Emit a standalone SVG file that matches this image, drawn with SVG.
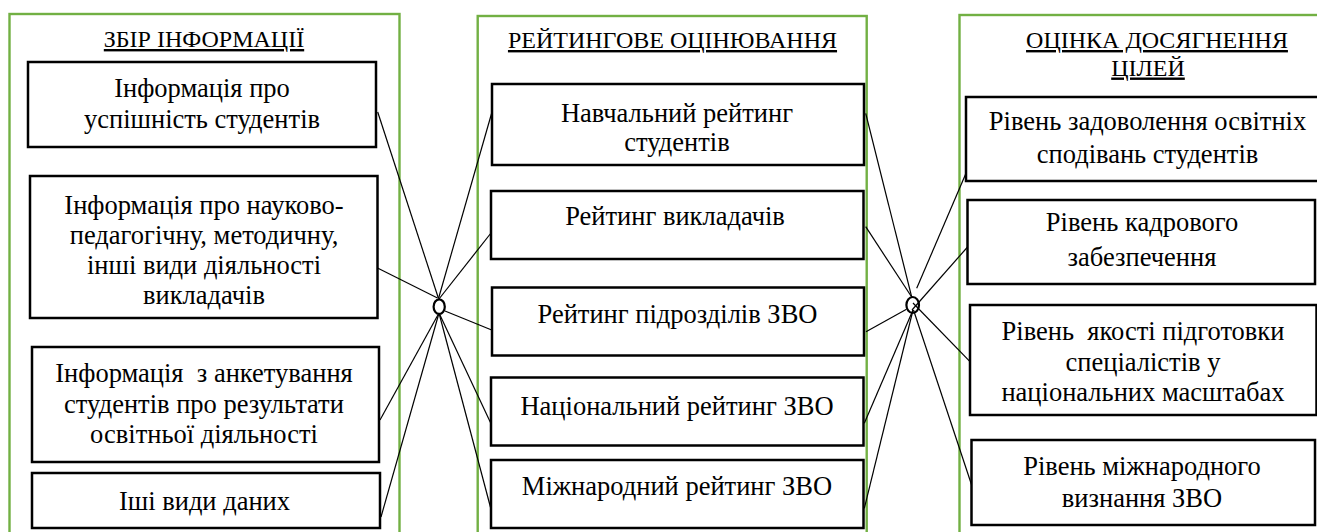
<svg xmlns="http://www.w3.org/2000/svg" width="1317" height="532" viewBox="0 0 1317 532">
<style>
  .frame { fill: none; stroke: #72B043; stroke-width: 2.4; }
  .box { fill: #fff; stroke: #000; stroke-width: 2.5; }
  text { font-family: 'Liberation Serif', 'Times New Roman', serif; fill: #000; text-anchor: middle; }
  .t { font-size: 26.5px; }
  .h { font-size: 24px; text-decoration: underline; }
  .c { fill: none; stroke: #000; stroke-width: 1.2; }
  .j { fill: none; stroke: #000; stroke-width: 2.2; }
</style>
<rect width="1317" height="532" fill="#fff"/>

<g id="frames">
  <rect class="frame" x="9.5" y="14" width="390" height="540"/>
  <rect class="frame" x="477.7" y="16" width="389" height="540"/>
  <rect class="frame" x="959.5" y="15" width="400" height="540"/>
</g>

<g id="titles">
  <text class="h" x="204" y="47">ЗБІР ІНФОРМАЦІЇ</text>
  <text class="h" x="672.5" y="48">РЕЙТИНГОВЕ ОЦІНЮВАННЯ</text>
  <text class="h" x="1157" y="48">ОЦІНКА ДОСЯГНЕННЯ</text>
  <text class="h" x="1148" y="75.5">ЦІЛЕЙ</text>
</g>

<g id="connectors">
  <line class="c" x1="377.7" y1="112" x2="438.5" y2="298.5"/>
  <line class="c" x1="377.5" y1="268" x2="437.5" y2="298"/>
  <line class="c" x1="491.7" y1="113" x2="438.5" y2="298.5"/>
  <line class="c" x1="491" y1="233" x2="439" y2="299"/>
  <line class="c" x1="445" y1="311" x2="491.7" y2="330"/>
  <line class="c" x1="439" y1="313" x2="380" y2="420"/>
  <line class="c" x1="439" y1="313" x2="381" y2="517"/>
  <line class="c" x1="439" y1="313" x2="490.7" y2="423"/>
  <line class="c" x1="439" y1="313" x2="490.7" y2="508"/>
  <line class="c" x1="865.7" y1="113.3" x2="911.7" y2="297"/>
  <line class="c" x1="865.7" y1="226.7" x2="911.7" y2="297"/>
  <line class="c" x1="866" y1="331.7" x2="906.5" y2="309.3"/>
  <line class="c" x1="864.3" y1="423.3" x2="913" y2="310"/>
  <line class="c" x1="864.3" y1="508.3" x2="913" y2="310"/>
  <line class="c" x1="966" y1="173.3" x2="916.7" y2="288.3"/>
  <line class="c" x1="969.3" y1="245" x2="912" y2="310"/>
  <line class="c" x1="970" y1="361.7" x2="913" y2="303"/>
  <line class="c" x1="973.3" y1="490" x2="913.5" y2="310"/>
  <ellipse class="j" cx="439.2" cy="306.7" rx="5.6" ry="7.3"/>
  <ellipse class="j" cx="912.7" cy="305" rx="6.3" ry="8"/>
</g>

<g id="node-l1">
  <rect class="box" x="28" y="62" width="348" height="85"/>
  <text class="t" x="202" y="97">Інформація про</text>
  <text class="t" x="202" y="128">успішність студентів</text>
</g>
<g id="node-l2">
  <rect class="box" x="30" y="176" width="347.5" height="142"/>
  <text class="t" x="204" y="213.5">Інформація про науково-</text>
  <text class="t" x="204" y="244">педагогічну, методичну,</text>
  <text class="t" x="204" y="274">інші види діяльності</text>
  <text class="t" x="204" y="303.5">викладачів</text>
</g>
<g id="node-l3">
  <rect class="box" x="32" y="347" width="347" height="115"/>
  <text class="t" x="204" y="382" xml:space="preserve">Інформація  з анкетування</text>
  <text class="t" x="204" y="413">студентів про результати</text>
  <text class="t" x="204" y="443">освітньої діяльності</text>
</g>
<g id="node-l4">
  <rect class="box" x="32" y="473" width="348" height="55"/>
  <text class="t" x="204.5" y="510">Іші види даних</text>
</g>

<g id="node-m1">
  <rect class="box" x="492" y="84" width="372" height="81"/>
  <text class="t" x="677" y="122">Навчальний рейтинг</text>
  <text class="t" x="677" y="151">студентів</text>
</g>
<g id="node-m2">
  <rect class="box" x="491" y="191" width="372.5" height="68"/>
  <text class="t" x="675" y="225">Рейтинг викладачів</text>
</g>
<g id="node-m3">
  <rect class="box" x="492" y="287.5" width="372" height="68"/>
  <text class="t" x="677.5" y="323">Рейтинг підрозділів ЗВО</text>
</g>
<g id="node-m4">
  <rect class="box" x="491" y="377.5" width="372.5" height="68"/>
  <text class="t" x="677" y="414.5">Національний рейтинг ЗВО</text>
</g>
<g id="node-m5">
  <rect class="box" x="491" y="460" width="372.5" height="68"/>
  <text class="t" x="677" y="495">Міжнародний рейтинг ЗВО</text>
</g>

<g id="node-r1">
  <rect class="box" x="966" y="97" width="360" height="84"/>
  <text class="t" x="1147.5" y="130">Рівень задоволення освітніх</text>
  <text class="t" x="1147.5" y="163">сподівань студентів</text>
</g>
<g id="node-r2">
  <rect class="box" x="967.5" y="200" width="347.5" height="84"/>
  <text class="t" x="1142" y="231">Рівень кадрового</text>
  <text class="t" x="1142" y="266">забезпечення</text>
</g>
<g id="node-r3">
  <rect class="box" x="970" y="305" width="346.5" height="110"/>
  <text class="t" x="1143" y="340" xml:space="preserve">Рівень  якості підготовки</text>
  <text class="t" x="1143" y="371">спеціалістів у</text>
  <text class="t" x="1143" y="400.5">національних масштабах</text>
</g>
<g id="node-r4">
  <rect class="box" x="971.5" y="440" width="343.5" height="85"/>
  <text class="t" x="1142" y="475">Рівень міжнародного</text>
  <text class="t" x="1142" y="506.5">визнання ЗВО</text>
</g>
</svg>
